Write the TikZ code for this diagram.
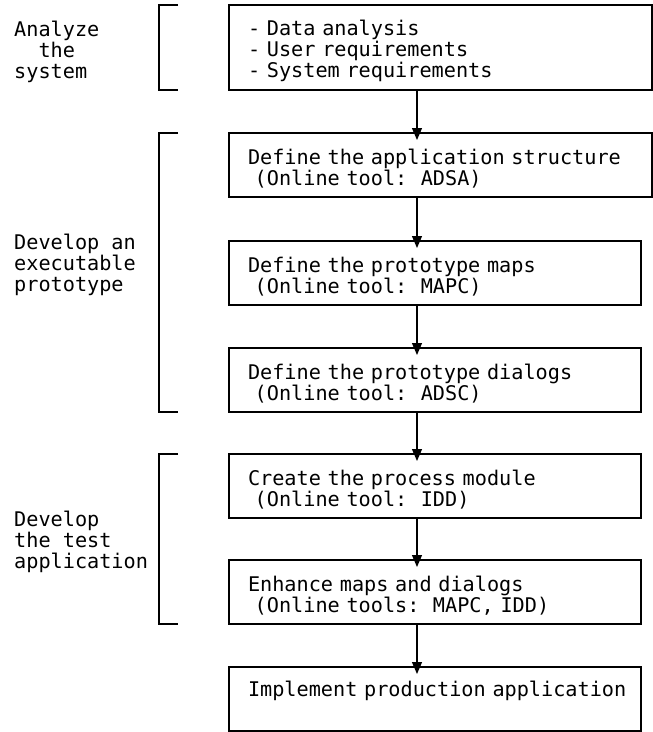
\documentclass[tikz,border=0pt]{standalone}
\usepackage{fontspec}
\setmonofont{DejaVu Sans Mono}
\usetikzlibrary{arrows.meta}

% one full cell per blank, as on a terminal
\newcommand\flowfont{\ttfamily\fontsize{20.2}{21}\selectfont\frenchspacing
    \fontdimen2\font=0.602em\fontdimen3\font=0pt\fontdimen4\font=0pt\spaceskip=0.602em\relax}

\begin{document}
\begin{tikzpicture}[x=1pt, y=-1pt, >={Triangle[width=10pt,length=12pt]},
        every node/.style={font=\flowfont, align=left, inner sep=0pt},
        stepbox/.style={draw, line width=1.2pt, anchor=north west, outer sep=0pt,
            inner xsep=19pt, minimum height=64pt, text width=374pt,
            execute at begin node={\rule{0pt}{22pt}}},
        widebox/.style={stepbox, text width=385pt},
        flow/.style={->, line width=1.2pt, shorten >=-7pt},
        bracket/.style={line width=1.2pt}]
                \useasboundingbox (0,0) rectangle (653,732);

                \coordinate (ax) at (417,0);
                \coordinate (bl) at (159,0);
                \coordinate (br) at (178,0);

                \node[widebox, minimum height=85pt, execute at begin node={}] (req) at (229,5) {- Data analysis\\- User requirements\\- System requirements};
                \node[widebox] (adsa) at (229,133) {Define~the~application~structure\\~(Online tool:~~ADSA)};
                \node[stepbox] (mapc) at (229,241) {Define the prototype maps\\~(Online tool:~~MAPC)};
                \node[stepbox] (adsc) at (229,348) {Define the prototype dialogs\\~(Online tool:~~ADSC)};
                \node[stepbox] (idd) at (229,454) {Create the process module\\~(Online tool:~~IDD)};
                \node[stepbox] (enh) at (229,560) {Enhance maps and dialogs\\~(Online tools:~~MAPC, IDD)};
                \node[stepbox] (prod) at (229,667) {Implement~production~application\\\strut};

                \draw[flow] (req.south -| ax) -- (adsa.north -| ax);
                \draw[flow] (adsa.south -| ax) -- (mapc.north -| ax);
                \draw[flow] (mapc.south -| ax) -- (adsc.north -| ax);
                \draw[flow] (adsc.south -| ax) -- (idd.north -| ax);
                \draw[flow] (idd.south -| ax) -- (enh.north -| ax);
                \draw[flow] (enh.south -| ax) -- (prod.north -| ax);

                \draw[bracket] (req.north west -| br) -- (req.north west -| bl) -- (req.south west -| bl) -- (req.south west -| br);
                \node[anchor=west] (analyze) at (14,52) {Analyze\\~~the\\system};

                \draw[bracket] (adsa.north west -| br) -- (adsa.north west -| bl) -- (adsc.south west -| bl) -- (adsc.south west -| br);
                \node[anchor=west] (proto) at (14,265) {Develop an\\executable\\prototype};

                \draw[bracket] (idd.north west -| br) -- (idd.north west -| bl) -- (enh.south west -| bl) -- (enh.south west -| br);
                \node[anchor=west] (testapp) at (14,542) {Develop\\the test\\application};
            \end{tikzpicture}
\end{document}
